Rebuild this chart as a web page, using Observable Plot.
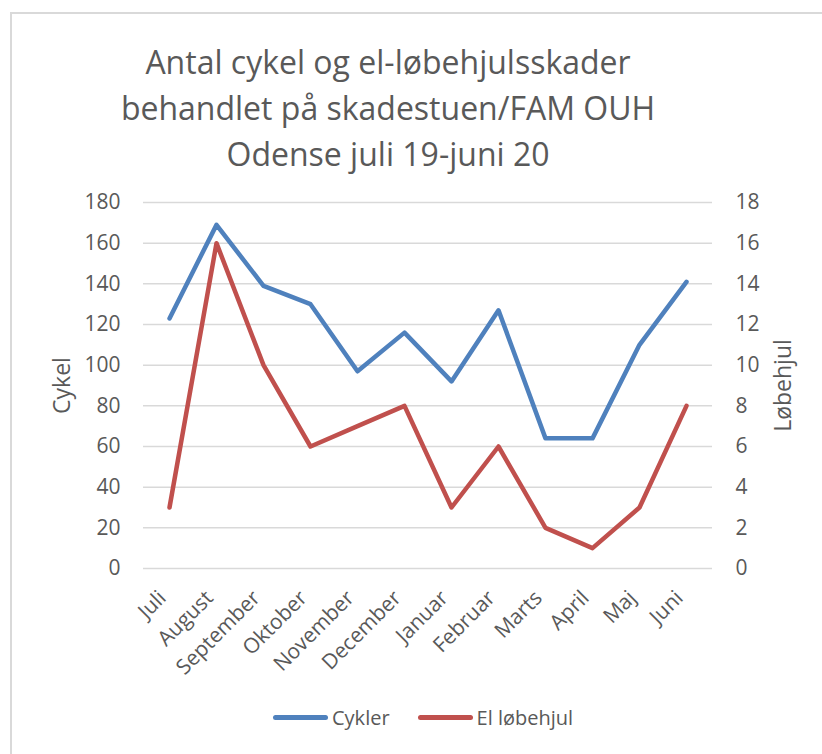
<!DOCTYPE html>
<html>
<head>
<meta charset="utf-8">
<script src="https://cdn.jsdelivr.net/npm/d3@7"></script>
<script src="https://cdn.jsdelivr.net/npm/@observablehq/plot@0.6"></script>
<style>
  html, body { margin: 0; padding: 0; background: #fff; }
  #wrap { position: relative; width: 822px; height: 754px; overflow: hidden; font-family: "Open Sans", sans-serif; color: #595959; }
  #border { position: absolute; left: 10px; top: 12px; width: 900px; height: 900px; border-top: 2px solid #d9d9d9; border-left: 2px solid #d9d9d9; }
  #title { position: absolute; left: 0; top: 39px; width: 776px; text-align: center; font-size: 32px; line-height: 46px; }
  #chart { position: absolute; left: 0; top: 180px; }
  #legend { position: absolute; left: 273px; top: 704px; display: flex; align-items: center; font-size: 20px; }
  .sw { display: inline-block; width: 55px; height: 5px; border-radius: 3px; margin-right: 4px; }
  .item { display: flex; align-items: center; margin-right: 28px; }
</style>
</head>
<body>
<div id="wrap">
  <div id="border"></div>
  <div id="title"></div>
  <div id="chart"></div>
  <div id="legend"></div>
</div>
<script>
const titleLines = ["Antal cykel og el-løbehjulsskader", "behandlet på skadestuen/FAM OUH", "Odense juli 19-juni 20"];
const months = ["Juli", "August", "September", "Oktober", "November", "December", "Januar", "Februar", "Marts", "April", "Maj", "Juni"];
const cykler = [123, 169, 139, 130, 97, 116, 92, 127, 64, 64, 110, 141];
const elLobehjul = [3, 16, 10, 6, 7, 8, 3, 6, 2, 1, 3, 8];
const leftTicks = [0, 20, 40, 60, 80, 100, 120, 140, 160, 180];
const seriesNames = ["Cykler", "El løbehjul"];
const seriesColors = ["#4F81BD", "#C0504D"];
const leftLabel = "Cykel";
const rightLabel = "Løbehjul";

document.getElementById("title").innerHTML = titleLines.join("<br>");

const dataC = months.map((m, i) => ({month: m, v: cykler[i]}));
const dataE = months.map((m, i) => ({month: m, v: elLobehjul[i]}));

const chart = Plot.plot({
  width: 822,
  height: 510,
  marginLeft: 143,
  marginRight: 110,
  marginTop: 22,
  marginBottom: 122,
  style: {fontFamily: "Open Sans", fontSize: "21px", color: "#595959", background: "transparent", overflow: "visible"},
  x: {type: "point", domain: months, padding: 0.5},
  y: {domain: [0, 180]},
  marks: [
    Plot.gridY(leftTicks, {stroke: "#d9d9d9", strokeOpacity: 1, strokeWidth: 1.5}),
    Plot.axisY(leftTicks, {tickSize: 0, tickPadding: 23, label: null, fill: "#595959"}),
    Plot.axisY(leftTicks, {anchor: "right", tickFormat: d => d / 10, tickSize: 0, tickPadding: 23, label: null, fill: "#595959"}),
    Plot.axisX({tickRotate: -45, tickSize: 0, tickPadding: 26, dx: -7, label: null, fill: "#595959"}),
    Plot.lineY(dataC, {x: "month", y: "v", stroke: seriesColors[0], strokeWidth: 4.5, strokeLinejoin: "round", strokeLinecap: "round"}),
    Plot.lineY(dataE, {x: "month", y: d => d.v * 10, stroke: seriesColors[1], strokeWidth: 4.5, strokeLinejoin: "round", strokeLinecap: "round"}),
    Plot.text([leftLabel], {text: d => d, frameAnchor: "left", dx: -81, rotate: -90, textAnchor: "middle", fontSize: 23, fill: "#595959"}),
    Plot.text([rightLabel], {text: d => d, frameAnchor: "right", dx: 71, rotate: -90, textAnchor: "middle", fontSize: 23, fill: "#595959"})
  ]
});
document.getElementById("chart").appendChild(chart);

const legend = document.getElementById("legend");
seriesNames.forEach((n, i) => {
  const it = document.createElement("div");
  it.className = "item";
  it.innerHTML = `<span class="sw" style="background:${seriesColors[i]}"></span><span>${n}</span>`;
  legend.appendChild(it);
});
</script>
</body>
</html>
